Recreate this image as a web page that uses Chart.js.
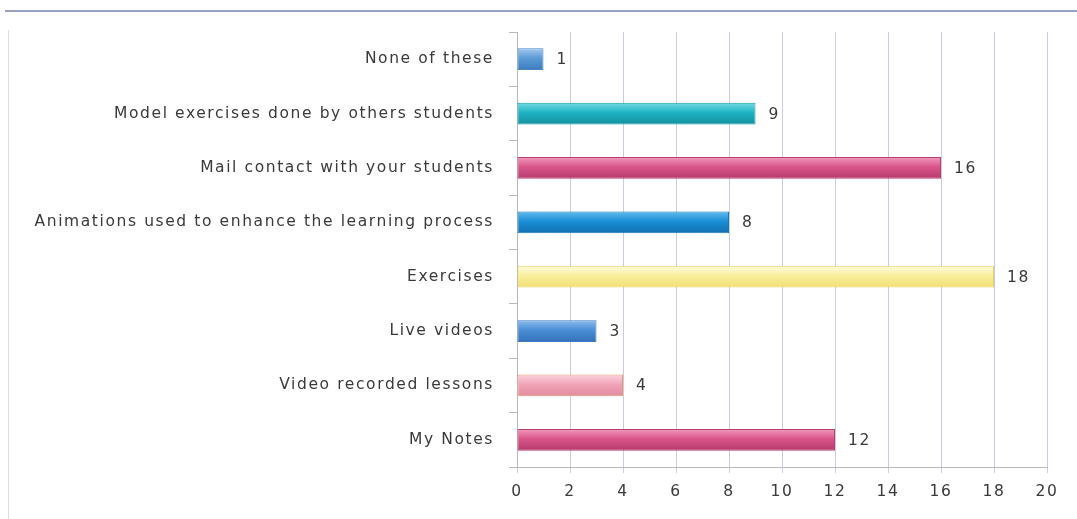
<!DOCTYPE html>
<html>
<head>
<meta charset="utf-8">
<script src="https://cdn.jsdelivr.net/npm/chart.js@4/dist/chart.umd.min.js"></script>
<style>
  html, body { margin: 0; padding: 0; background: #fff; }
  #wrap { width: 1077px; height: 519px; position: relative; }
</style>
</head>
<body>
<div id="wrap"><canvas id="grafico"></canvas></div>
<script>
const categorias = [
  "None of these",
  "Model exercises done by others students",
  "Mail contact with your students",
  "Animations used to enhance the learning process",
  "Exercises",
  "Live videos",
  "Video recorded lessons",
  "My Notes"
];
const valores = [1, 9, 16, 8, 18, 3, 4, 12];
const ticksX = [0, 2, 4, 6, 8, 10, 12, 14, 16, 18, 20];

// claro, medio, oscuro, borde
const colores = [
  ["#a3c8ee", "#5b9bd5", "#3d7cc0", "#4a86c5"],
  ["#73dbe4", "#1fb3c3", "#11909e", "#1a9aa8"],
  ["#f19bbd", "#d9558a", "#b63a6c", "#b8406f"],
  ["#62baee", "#1b8fd6", "#1270b0", "#1579bc"],
  ["#fffce0", "#f9ef9c", "#f1df72", "#e6cf62"],
  ["#8dbcec", "#4a8fd6", "#3470b8", "#3a7cc4"],
  ["#fbd3dd", "#f1a4b8", "#e28a9e", "#e39a70"],
  ["#f19bbd", "#d9558a", "#b63a6c", "#b8406f"]
];

const fuente = "'DejaVu Sans', 'Open Sans', sans-serif";
const tamano = 15.5;
const espaciado = "1.6px";

function relleno(context) {
  const chart = context.chart;
  const escalaY = chart.scales.y;
  const c = colores[context.dataIndex];
  if (!escalaY || escalaY.top === undefined) return c[1];
  const centro = escalaY.getPixelForValue(context.dataIndex);
  const alto = escalaY.getPixelForValue(1) - escalaY.getPixelForValue(0);
  const grosor = alto * 0.4;
  const g = chart.ctx.createLinearGradient(0, centro - grosor / 2, 0, centro + grosor / 2);
  g.addColorStop(0, c[0]);
  g.addColorStop(0.45, c[1]);
  g.addColorStop(1, c[2]);
  return g;
}

// marco, espaciado del texto y etiquetas de valor
const marco = {
  id: "marco",
  beforeUpdate(chart) {
    chart.ctx.letterSpacing = espaciado;
  },
  beforeDraw(chart) {
    const ctx = chart.ctx;
    ctx.letterSpacing = espaciado;
    ctx.save();
    ctx.strokeStyle = "#9aa0c0";
    ctx.lineWidth = 2;
    ctx.beginPath();
    ctx.moveTo(5, 11);
    ctx.lineTo(chart.width, 11);
    ctx.stroke();
    ctx.strokeStyle = "#dcdcdc";
    ctx.lineWidth = 1;
    ctx.beginPath();
    ctx.moveTo(8.5, 30);
    ctx.lineTo(8.5, chart.height);
    ctx.stroke();
    ctx.restore();
  },
  afterDatasetsDraw(chart) {
    const ctx = chart.ctx;
    const meta = chart.getDatasetMeta(0);
    ctx.save();
    ctx.font = tamano + "px " + fuente;
    ctx.fillStyle = "#3a3a3a";
    ctx.textBaseline = "middle";
    meta.data.forEach((bar, i) => {
      ctx.fillText(String(valores[i]), bar.x + 13, bar.y + 1);
    });
    ctx.restore();
  }
};

new Chart(document.getElementById("grafico"), {
  type: "bar",
  data: {
    labels: categorias,
    datasets: [{
      data: valores,
      backgroundColor: relleno,
      borderColor: colores.map(c => c[3]),
      borderWidth: 1,
      borderSkipped: false,
      categoryPercentage: 1,
      barPercentage: 0.4
    }]
  },
  options: {
    indexAxis: "y",
    responsive: true,
    maintainAspectRatio: false,
    animation: false,
    events: [],
    layout: { padding: { top: 32, right: 30, bottom: 0, left: 0 } },
    plugins: { legend: { display: false }, tooltip: { enabled: false } },
    scales: {
      x: {
        min: 0,
        max: 20,
        afterBuildTicks(s) { s.ticks = ticksX.map(v => ({ value: v })); },
        afterFit(s) { s.height = 52; },
        grid: { color: "#c9cce0", tickLength: 6, tickColor: "#c9cce0" },
        border: { color: "#b8b8b8" },
        ticks: { color: "#3a3a3a", font: { family: fuente, size: tamano }, padding: 10 }
      },
      y: {
        afterFit(s) { s.width = 517; },
        grid: { drawOnChartArea: false, tickLength: 8, color: "#b8b8b8", offset: true },
        border: { color: "#b8b8b8" },
        ticks: { color: "#3a3a3a", font: { family: fuente, size: tamano }, padding: 15 }
      }
    }
  },
  plugins: [marco]
});
</script>
</body>
</html>
